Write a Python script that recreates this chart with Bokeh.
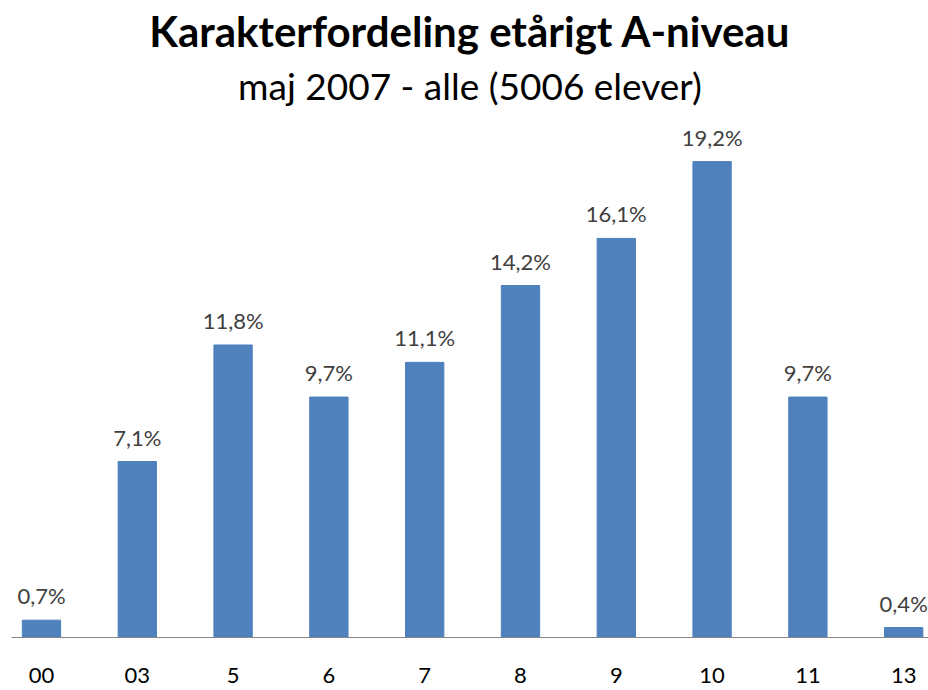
from bokeh.plotting import figure
from bokeh.models import Range1d, FixedTicker, Title, ColumnDataSource
from bokeh.core.properties import value
from bokeh.embed import file_html
from bokeh.resources import INLINE

categories = ["00", "03", "5", "6", "7", "8", "9", "10", "11", "13"]
shares = [0.7, 7.1, 11.8, 9.7, 11.1, 14.2, 16.1, 19.2, 9.7, 0.4]
title_text = "Karakterfordeling etårigt A-niveau"
subtitle_text = "maj 2007 - alle (5006 elever)"

FONT = "Lato"
xs = list(range(len(categories)))
labels = [f"{v:.1f}".replace(".", ",") + "%" for v in shares]
src = ColumnDataSource(dict(x=xs, top=shares, label=labels))

p = figure(width=928, height=690, output_backend="svg", toolbar_location=None,
           title=None,
           x_range=Range1d(-0.313, 9.259), y_range=Range1d(0, 21.3),
           min_border_left=11, min_border_right=0, min_border_top=0,
           min_border_bottom=53)

p.add_layout(Title(text=subtitle_text, align="center", text_font=FONT,
                   text_font_size="37px", text_font_style="normal",
                   text_color="black", standoff=4), "above")
p.add_layout(Title(text=title_text, align="center", text_font=FONT,
                   text_font_size="42px", text_font_style="bold",
                   text_color="black", standoff=6), "above")

p.vbar(x="x", top="top", width=0.4, source=src,
       fill_color="#4F81BD", line_color="#4F81BD")
p.text(x="x", y="top", text="label", source=src, text_align="center",
       text_baseline="bottom", y_offset=-11, text_font=value(FONT),
       text_font_size="22px", text_color="#404040")

p.yaxis.visible = False
p.xgrid.visible = False
p.ygrid.visible = False
p.outline_line_color = None
ax = p.xaxis[0]
ax.ticker = FixedTicker(ticks=xs)
ax.major_label_overrides = {i: c for i, c in zip(xs, categories)}
ax.major_tick_line_color = None
ax.minor_tick_line_color = None
ax.axis_line_color = "#868686"
ax.major_label_text_font = FONT
ax.major_label_text_font_size = "22px"
ax.major_label_text_color = "black"
ax.major_label_standoff = 24

open("out.html", "w").write(file_html(p, INLINE))
